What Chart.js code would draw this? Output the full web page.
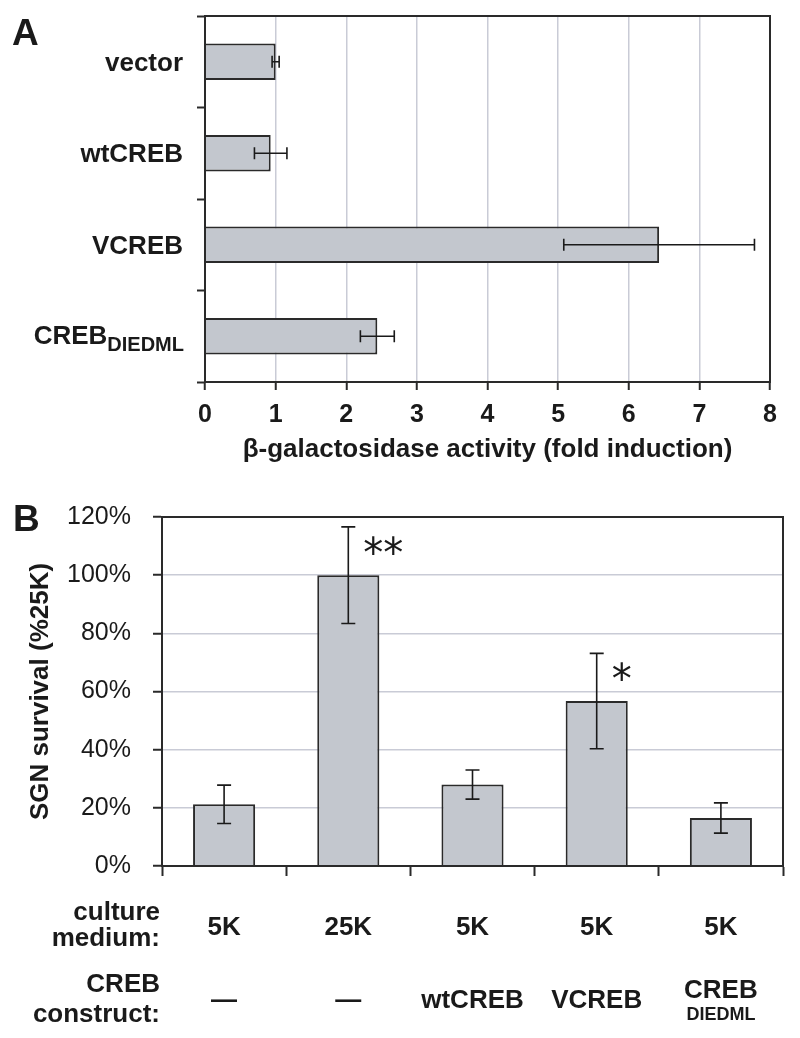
<!DOCTYPE html>
<html>
<head>
<meta charset="utf-8">
<script src="https://cdn.jsdelivr.net/npm/chart.js@4"></script>
<style>
  body { margin: 0; background: #fff; }
  #wrap { position: relative; width: 800px; height: 1038px; }
  canvas { position: absolute; left: 0; }
  #chartA { top: 0; }
  #chartB { top: 480px; }
</style>
</head>
<body>
<div id="wrap">
  <canvas id="chartA" width="800" height="475"></canvas>
  <canvas id="chartB" width="800" height="558"></canvas>
</div>
<script>
// panel A - reporter assay
var groupsA = ['vector', 'wtCREB', 'VCREB', 'CREB'];
var groupsSubA = ['', '', '', 'DIEDML'];
var foldA = [1.0, 0.93, 6.43, 2.44];
var foldErrA = [0.05, 0.23, 1.35, 0.24];

// panel B - SGN survival
var mediumB = ['5K', '25K', '5K', '5K', '5K'];
var constructB = ['\u2014', '\u2014', 'wtCREB', 'VCREB', 'CREB'];
var constructSubB = ['', '', '', '', 'DIEDML'];
var survivalB = [21.2, 100, 28.0, 56.7, 16.5];
var survivalErrB = [6.6, 16.6, 5.0, 16.4, 5.2];
var starsB = ['', '**', '', '*', ''];

var FAMILY = '"Liberation Sans", Arial, Helvetica, sans-serif';
var ink = '#1a1a1a';
var axisColor = '#2a2a2a';
var gridColor = '#c9cbd6';
var barFill = '#c3c7ce';

Chart.defaults.font.family = FAMILY;
Chart.defaults.color = ink;

var errorBars = function (errs, horizontal, cap) {
  return {
    id: 'errorBars',
    afterDatasetsDraw: function (chart) {
      var ctx = chart.ctx;
      var meta = chart.getDatasetMeta(0);
      var vals = chart.data.datasets[0].data;
      var scale = horizontal ? chart.scales.x : chart.scales.y;
      ctx.save();
      ctx.strokeStyle = ink;
      ctx.lineWidth = 1.6;
      meta.data.forEach(function (bar, i) {
        var lo = scale.getPixelForValue(vals[i] - errs[i]);
        var hi = scale.getPixelForValue(vals[i] + errs[i]);
        ctx.beginPath();
        if (horizontal) {
          ctx.moveTo(lo, bar.y); ctx.lineTo(hi, bar.y);
          ctx.moveTo(lo, bar.y - cap); ctx.lineTo(lo, bar.y + cap);
          ctx.moveTo(hi, bar.y - cap); ctx.lineTo(hi, bar.y + cap);
        } else {
          ctx.moveTo(bar.x, lo); ctx.lineTo(bar.x, hi);
          ctx.moveTo(bar.x - cap, lo); ctx.lineTo(bar.x + cap, lo);
          ctx.moveTo(bar.x - cap, hi); ctx.lineTo(bar.x + cap, hi);
        }
        ctx.stroke();
      });
      ctx.restore();
    }
  };
};

var frame = {
  id: 'frame',
  afterDraw: function (chart) {
    var a = chart.chartArea, ctx = chart.ctx;
    ctx.save();
    ctx.strokeStyle = axisColor;
    ctx.lineWidth = 2;
    ctx.strokeRect(a.left, a.top, a.right - a.left, a.bottom - a.top);
    ctx.restore();
  }
};

// ---------- panel A ----------
var labelsA = {
  id: 'labelsA',
  afterDraw: function (chart) {
    var ctx = chart.ctx, y = chart.scales.y;
    var right = chart.chartArea.left - 22;
    ctx.save();
    ctx.fillStyle = ink;
    ctx.font = 'bold 37px ' + FAMILY;
    ctx.textAlign = 'left';
    ctx.textBaseline = 'alphabetic';
    ctx.fillText('A', 12, 45);
    ctx.textAlign = 'right';
    groupsA.forEach(function (t, i) {
      var cy = y.getPixelForValue(i);
      if (groupsSubA[i]) {
        ctx.font = 'bold 20px ' + FAMILY;
        ctx.fillText(groupsSubA[i], right + 1, cy + 15);
        var w = ctx.measureText(groupsSubA[i]).width;
        ctx.font = 'bold 26px ' + FAMILY;
        ctx.fillText(t, right + 1 - w, cy + 8);
      } else {
        ctx.font = 'bold 26px ' + FAMILY;
        ctx.fillText(t, right, cy + 9);
      }
    });
    ctx.restore();
  }
};

new Chart(document.getElementById('chartA'), {
  type: 'bar',
  data: {
    labels: groupsA,
    datasets: [{
      data: foldA,
      backgroundColor: barFill,
      borderColor: axisColor,
      borderWidth: 2,
      barPercentage: 0.4,
      categoryPercentage: 1
    }]
  },
  options: {
    indexAxis: 'y',
    responsive: false,
    animation: false,
    layout: { padding: { top: 16, right: 30, left: 0, bottom: 0 } },
    plugins: { legend: { display: false }, tooltip: { enabled: false } },
    scales: {
      x: {
        min: 0, max: 8,
        ticks: { stepSize: 1, padding: 10, color: ink, font: { size: 25, weight: 'bold' } },
        grid: { color: gridColor, lineWidth: 1.5, tickColor: axisColor, tickLength: 8, tickWidth: 2 },
        border: { color: axisColor, width: 2 },
        title: {
          display: true,
          text: '\u03b2-galactosidase activity (fold induction)',
          color: ink,
          font: { size: 26, weight: 'bold', lineHeight: 1 },
          padding: { top: 4, bottom: 12 }
        },
        afterFit: function (s) { s.height = 93; }
      },
      y: {
        ticks: { callback: function () { return ''; } },
        grid: { offset: true, drawOnChartArea: false, tickColor: axisColor, tickLength: 8, tickWidth: 2 },
        border: { color: axisColor, width: 2 },
        afterFit: function (s) { s.width = 205; }
      }
    }
  },
  plugins: [errorBars(foldErrA, true, 6), frame, labelsA]
});

// ---------- panel B ----------
var labelsB = {
  id: 'labelsB',
  afterDraw: function (chart) {
    var ctx = chart.ctx, x = chart.scales.x, y = chart.scales.y;
    var meta = chart.getDatasetMeta(0);
    var left = chart.chartArea.left - 2;
    ctx.save();
    ctx.fillStyle = ink;
    ctx.textBaseline = 'alphabetic';
    ctx.textAlign = 'left';
    ctx.font = 'bold 37px ' + FAMILY;
    ctx.fillText('B', 13, 51);

    // significance marks
    ctx.font = '40px "DejaVu Sans", sans-serif';
    starsB.forEach(function (s, i) {
      if (!s) return;
      var top = y.getPixelForValue(survivalB[i] + survivalErrB[i]);
      ctx.fillText(s, meta.data[i].x + 15, top + 40);
    });

    ctx.textBaseline = 'middle';
    ctx.font = 'bold 26px ' + FAMILY;
    ctx.textAlign = 'right';
    ctx.fillText('culture', left, 433);
    ctx.fillText('medium:', left, 459);
    ctx.fillText('CREB', left, 505);
    ctx.fillText('construct:', left, 535);

    ctx.textAlign = 'center';
    mediumB.forEach(function (t, i) {
      ctx.fillText(t, x.getPixelForValue(i), 448);
    });
    constructB.forEach(function (t, i) {
      var cx = x.getPixelForValue(i);
      if (constructSubB[i]) {
        ctx.font = 'bold 26px ' + FAMILY;
        ctx.fillText(t, cx, 511);
        ctx.font = 'bold 18px ' + FAMILY;
        ctx.fillText(constructSubB[i], cx, 535);
      } else {
        ctx.font = 'bold 26px ' + FAMILY;
        ctx.fillText(t, cx, 521);
      }
    });
    ctx.restore();
  }
};

new Chart(document.getElementById('chartB'), {
  type: 'bar',
  data: {
    labels: mediumB,
    datasets: [{
      data: survivalB,
      backgroundColor: barFill,
      borderColor: axisColor,
      borderWidth: 2,
      barPercentage: 0.5,
      categoryPercentage: 1
    }]
  },
  options: {
    responsive: false,
    animation: false,
    layout: { padding: { top: 32, right: 17, left: 0, bottom: 0 } },
    plugins: { legend: { display: false }, tooltip: { enabled: false } },
    scales: {
      x: {
        ticks: { callback: function () { return ''; } },
        grid: { offset: true, drawOnChartArea: false, tickColor: axisColor, tickLength: 10, tickWidth: 2 },
        border: { color: axisColor, width: 2 },
        afterFit: function (s) { s.height = 172; }
      },
      y: {
        min: 0, max: 120,
        ticks: {
          stepSize: 20, padding: 22, color: ink,
          font: { size: 25 },
          callback: function (v) { return v + '%'; }
        },
        grid: { color: gridColor, lineWidth: 1.5, tickColor: axisColor, tickLength: 9, tickWidth: 2 },
        border: { color: axisColor, width: 2 },
        title: {
          display: true,
          text: 'SGN survival (%25K)',
          color: ink,
          font: { size: 26, weight: 'bold', lineHeight: 1 },
          padding: { top: 28, bottom: 0 }
        },
        afterFit: function (s) { s.width = 162; }
      }
    }
  },
  plugins: [errorBars(survivalErrB, false, 7), frame, labelsB]
});
</script>
</body>
</html>
